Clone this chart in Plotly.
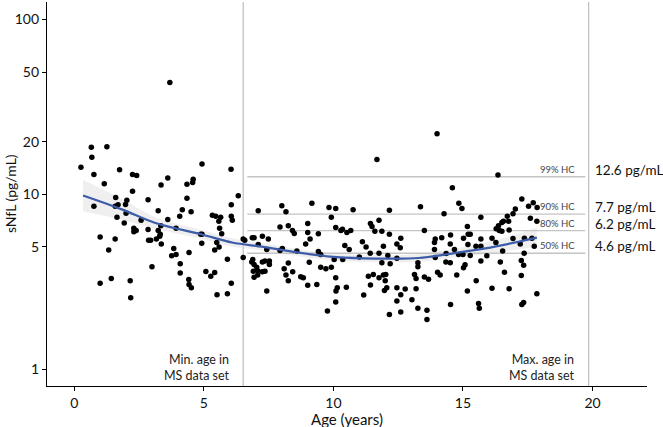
import math
import plotly.graph_objects as go

# ---------------- data ----------------
age = [
    0.66, 1.26, 0.68, 0.26, 0.76, 1.75, 2.25, 2.41, 4.93, 6.05, 1.16, 3.61, 3.35, 4.59, 4.57, 4.35, 2.25, 1.60, 2.03, 2.85,
    4.35, 0.76, 1.58, 1.69, 1.98, 3.24, 4.17, 4.07, 4.51, 1.65, 2.00, 5.33, 5.46, 5.65, 2.58, 1.93, 3.61, 5.58, 6.06, 6.06,
    6.33, 6.10,
    3.34, 2.30, 2.30, 2.39, 2.85, 3.24, 3.32, 3.30, 3.93, 2.87, 2.95, 3.17, 3.36, 1.00, 1.58, 1.33, 3.84, 3.93, 3.76, 4.43,
    4.09, 3.00, 4.09, 4.88, 4.93, 4.92, 5.61, 5.69, 5.50, 5.59, 5.42, 5.91, 5.08, 5.27, 5.42, 1.00, 1.43, 2.16, 2.18, 4.42,
    4.43, 4.52, 5.51, 5.91, 6.06,
    11.68, 7.10, 8.01, 8.17, 9.17, 9.83, 10.09, 9.92, 10.76, 7.94, 8.26, 8.42, 8.49, 9.01, 9.01, 9.42, 9.10, 10.09, 10.29,
    10.35, 10.52, 10.67, 11.43, 11.49, 11.76, 11.60, 11.87, 12.16, 12.16, 6.87, 6.94, 7.26, 6.52, 7.49,
    6.58, 6.52, 7.10, 6.89, 6.85, 6.94, 7.04, 6.91, 7.08, 6.94, 7.08, 7.26, 7.26, 7.36, 7.43, 7.53, 7.53, 7.36, 7.43, 7.94,
    8.03, 8.10, 8.17, 8.26, 8.26, 8.43, 8.59, 8.74, 8.84, 9.01, 8.93, 9.07, 9.36, 9.42, 9.51, 9.51, 9.71, 9.92, 10.03, 10.09,
    10.15, 10.10, 10.09, 9.77, 10.36, 10.50, 10.44, 10.61, 11.00, 11.12, 11.26, 11.17, 11.35, 11.54, 11.43, 11.76, 11.93,
    12.02, 11.87, 12.00, 11.97, 12.06, 12.16, 11.93, 11.42, 11.76, 12.10,
    16.35, 14.59, 13.36, 14.84, 14.96, 14.27, 15.69, 17.27, 17.53, 17.71, 17.86, 17.60, 17.85, 17.02, 16.93, 16.76, 16.71,
    16.56, 16.50, 16.37, 16.28, 16.40, 16.50, 16.78, 15.17, 15.20, 15.28, 13.51, 12.60, 13.93, 14.18, 14.52, 15.02, 15.69,
    16.12, 16.93, 17.37, 17.66,
    12.45, 12.19, 12.45, 12.58, 12.45, 12.60, 12.77, 12.45, 12.60, 13.03, 13.19, 13.19, 13.13, 13.26, 13.26, 13.26, 13.51,
    13.67, 13.61, 13.61, 13.93, 14.02, 14.12, 14.34, 14.51, 14.52, 13.90, 13.90, 14.35, 14.51, 14.67, 14.83, 15.00, 15.19,
    14.76, 15.02, 15.08, 15.17, 15.51, 15.60, 15.63, 15.28, 15.50, 15.69, 15.69, 15.92, 16.27, 16.44, 16.53, 16.60, 16.12,
    16.78, 17.25, 17.25, 17.34, 17.27, 17.34, 17.75, 17.36, 17.85, 17.21,
    3.69, 14.00,
]
nfl = [
    18.6, 18.7, 16.3, 14.3, 12.96, 13.8, 13.0, 12.8, 14.9, 13.9, 11.5, 12.4, 11.3, 12.2, 11.7, 11.4, 10.4, 9.6, 9.25, 9.3,
    9.5, 8.55, 8.55, 8.7, 8.73, 8.05, 8.15, 7.5, 7.95, 7.4, 7.8, 7.6, 7.5, 7.4, 7.1, 6.85, 7.17, 7.0, 8.7, 7.5,
    9.8, 7.1,
    6.6, 6.4, 6.1, 6.2, 6.28, 6.2, 5.9, 5.75, 6.4, 5.45, 5.45, 5.55, 5.2, 5.7, 5.55, 4.8, 4.9, 4.52, 4.45, 4.65,
    4.0, 3.85, 3.55, 5.9, 5.9, 5.25, 6.4, 5.95, 5.3, 5.0, 4.8, 4.25, 3.62, 3.4, 3.57, 3.1, 3.3, 3.2, 2.56, 3.25,
    3.05, 2.92, 2.66, 2.7, 3.1,
    15.8, 8.05, 8.6, 7.95, 8.9, 8.4, 8.3, 7.4, 8.15, 6.5, 6.6, 6.2, 5.97, 6.8, 6.05, 5.95, 5.55, 6.45, 6.2,
    6.3, 6.05, 6.2, 6.8, 6.55, 7.1, 6.15, 6.15, 8.1, 5.9, 5.65, 5.65, 5.75, 5.55, 5.55,
    5.45, 4.35, 5.16, 4.24, 4.1, 3.97, 3.82, 3.63, 3.65, 3.35, 3.45, 3.6, 4.1, 4.15, 4.83, 4.15, 3.97, 3.63, 2.8, 4.77,
    4.9, 3.75, 3.45, 4.05, 3.2, 3.6, 4.73, 3.38, 3.33, 3.02, 5.2, 4.08, 3.05, 4.7, 4.52, 3.82, 3.75, 3.82, 4.24, 3.33,
    2.92, 2.8, 2.42, 2.15, 4.24, 2.94, 5.1, 4.83, 4.38, 5.35, 5.0, 2.65, 3.4, 3.48, 3.03, 3.33, 3.45,
    3.48, 4.06, 3.2, 2.82, 2.92, 2.05, 5.05, 4.6, 4.6, 4.47,
    12.9, 10.9, 8.5, 8.9, 8.3, 7.75, 7.4, 9.4, 8.55, 8.95, 8.4, 7.3, 7.0, 8.25, 7.75, 7.0, 7.5,
    7.0, 6.9, 6.6, 6.35, 6.2, 6.15, 6.25, 6.55, 5.9, 5.9, 6.2, 5.6, 5.55, 5.65, 5.85, 5.6, 5.55,
    5.6, 5.58, 5.6, 5.6,
    4.3, 4.0, 5.2, 4.95, 2.92, 2.66, 2.87, 2.45, 2.12, 2.49, 2.88, 3.3, 3.48, 4.06, 3.85, 2.23, 3.36,
    3.26, 2.17, 1.92, 4.35, 3.58, 3.45, 4.1, 4.06, 2.34, 5.3, 4.83, 4.58, 5.2, 4.83, 4.52, 4.52, 5.16,
    3.45, 3.8, 3.95, 2.8, 3.2, 2.37, 2.23, 4.47, 5.05, 5.05, 4.15, 4.45, 5.3, 4.1, 4.73, 3.58, 2.9,
    2.88, 4.18, 3.43, 3.93, 2.34, 2.4, 5.05, 4.6, 2.7, 5.2,
    43.6, 22.2,
]

fit_age = [0.34, 1.84, 3.13, 4.93, 6.09, 7.3, 8.59, 9.87, 11.16, 12.19, 13.28, 14.57, 15.86, 17.14, 17.85]
fit_nfl = [9.85, 8.2, 6.85, 5.89, 5.3, 5.0, 4.65, 4.4, 4.3, 4.28, 4.32, 4.58, 4.9, 5.35, 5.65]
fit_upper = [12.1, 9.4, 7.4, 6.25, 5.6, 5.25, 4.87, 4.6, 4.5, 4.48, 4.55, 4.85, 5.3, 5.95, 6.45]
fit_lower = [8.0, 7.15, 6.35, 5.55, 5.02, 4.76, 4.44, 4.2, 4.1, 4.08, 4.1, 4.32, 4.55, 4.85, 5.0]

hc_labels = ["99% HC", "90% HC", "80% HC", "50% HC"]
hc_values = [12.6, 7.7, 6.2, 4.6]
hc_value_text = ["12.6 pg/mL", "7.7 pg/mL", "6.2 pg/mL", "4.6 pg/mL"]
hc_x_range = [6.68, 19.72]

min_age_ms = 6.52
max_age_ms = 19.85

x_ticks = [0, 5, 10, 15, 20]
y_ticks = [1, 5, 10, 20, 50, 100]

# ---------------- figure ----------------
FONT = "Lato, 'Open Sans', sans-serif"
fig = go.Figure()

# confidence band
fig.add_trace(go.Scatter(x=fit_age, y=fit_upper, mode="lines", line=dict(width=0, shape="spline"),
                         hoverinfo="skip", showlegend=False))
fig.add_trace(go.Scatter(x=fit_age, y=fit_lower, mode="lines", line=dict(width=0, shape="spline"),
                         fill="tonexty", fillcolor="rgba(215,215,215,0.4)", hoverinfo="skip", showlegend=False))

# HC reference lines
for v in hc_values:
    fig.add_trace(go.Scatter(x=hc_x_range, y=[v, v], mode="lines",
                             line=dict(color="#c4c4c4", width=1.3), hoverinfo="skip", showlegend=False))

# vertical lines (min / max age in MS data set)
for xv in [min_age_ms, max_age_ms]:
    fig.add_shape(type="line", xref="x", yref="paper", x0=xv, x1=xv, y0=0, y1=1,
                  line=dict(color="#bdbdbd", width=1.2), layer="below")

# points
fig.add_trace(go.Scatter(x=age, y=nfl, mode="markers",
                         marker=dict(color="black", size=5.5), showlegend=False))

# fitted curve
fig.add_trace(go.Scatter(x=fit_age, y=fit_nfl, mode="lines",
                         line=dict(color="#3c5ba8", width=2.2, shape="spline"), showlegend=False))

# annotations
for lab, v, vt in zip(hc_labels, hc_values, hc_value_text):
    fig.add_annotation(x=19.4, y=math.log10(v), xref="x", yref="y", text=lab, showarrow=False,
                       xanchor="right", yanchor="bottom", yshift=0,
                       font=dict(family=FONT, size=9.5, color="#444444"))
    fig.add_annotation(x=20.0, y=math.log10(v), xref="x", yref="y", text=vt, showarrow=False,
                       xanchor="left", yanchor="middle", yshift=7,
                       font=dict(family=FONT, size=13.5, color="#111111"))

fig.add_annotation(x=6.08, y=0, xref="x", yref="paper", text="Min. age in<br>MS data set", showarrow=False,
                   xanchor="right", yanchor="bottom", yshift=1, align="right",
                   font=dict(family=FONT, size=12.5, color="#222222"))
fig.add_annotation(x=19.4, y=0, xref="x", yref="paper", text="Max. age in<br>MS data set", showarrow=False,
                   xanchor="right", yanchor="bottom", yshift=1, align="right",
                   font=dict(family=FONT, size=12.5, color="#222222"))

# axis titles
fig.add_annotation(x=0.5, y=0, xref="paper", yref="paper", text="Age (years)", showarrow=False,
                   xanchor="center", yanchor="top", yshift=-22,
                   font=dict(family=FONT, size=15, color="#111111"))
fig.add_annotation(x=0, y=0.5, xref="paper", yref="paper", text="sNfL (pg/mL)", showarrow=False,
                   xanchor="center", yanchor="middle", xshift=-37, textangle=-90,
                   font=dict(family=FONT, size=14, color="#111111"))

fig.update_layout(
    width=663, height=427,
    margin=dict(l=47, r=16, t=2, b=41, autoexpand=False),
    plot_bgcolor="white", paper_bgcolor="white",
    font=dict(family=FONT, size=14, color="#111111"),
    showlegend=False,
    xaxis=dict(range=[-1.05, 22.1], tickvals=x_ticks, showgrid=False, zeroline=False,
               showline=True, linecolor="black", linewidth=1.2, ticks="outside", ticklen=4,
               tickcolor="black", tickfont=dict(size=14), automargin=False),
    yaxis=dict(type="log", range=[math.log10(0.8), math.log10(126)], tickvals=y_ticks,
               ticktext=[str(t) for t in y_ticks], showgrid=False, zeroline=False,
               showline=True, linecolor="black", linewidth=1.2, ticks="outside", ticklen=4,
               tickcolor="black", tickfont=dict(size=14), automargin=False),
)

fig.write_html("out.html", config={"displayModeBar": False},
               post_script="document.body.style.margin='0px';document.body.style.overflow='hidden';")
